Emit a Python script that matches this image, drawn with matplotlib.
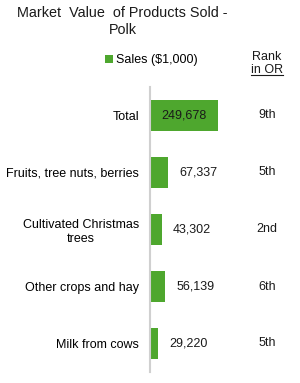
import matplotlib
matplotlib.use("Agg")
import matplotlib.pyplot as plt
from matplotlib.transforms import blended_transform_factory
from matplotlib.lines import Line2D

plt.rcParams['font.family'] = ['Liberation Sans', 'DejaVu Sans']

categories = ["Total", "Fruits, tree nuts, berries", "Cultivated Christmas\ntrees",
              "Other crops and hay", "Milk from cows"]
sales = [249678, 67337, 43302, 56139, 29220]
ranks = ["9th", "5th", "2nd", "6th", "5th"]
series_name = "Sales ($1,000)"
title_line1 = "Market  Value  of Products Sold -"
title_line2 = "Polk"
bar_color = "#4ea72e"

W, H = 300, 383
fig = plt.figure(figsize=(W / 100, H / 100), dpi=100)
ax = fig.add_axes([150 / W, (H - 372) / H, 150 / W, 285 / H])

ypos = list(range(len(categories)))
bars = ax.barh(ypos, sales, height=0.54, color=bar_color, label=series_name, zorder=2)
ax.set_xlim(0, 550000)
ax.set_ylim(len(categories) - 0.5, -0.5)
ax.set_yticks(ypos)
ax.set_yticklabels(categories, fontsize=9, multialignment='center')
ax.tick_params(axis='y', length=0, pad=8)
ax.set_xticks([])
for s in ['top', 'right', 'bottom']:
    ax.spines[s].set_visible(False)
ax.spines['left'].set_color('#d0d0d0')
ax.spines['left'].set_linewidth(1.5)

for i, v in enumerate(sales):
    txt = f"{v:,}"
    if i == 0:
        ax.text(v / 2, i, txt, ha='center', va='center', fontsize=9, color='#1a1a1a')
    else:
        ax.annotate(txt, xy=(v, i), xytext=(8, 0), textcoords='offset points',
                    ha='left', va='center', fontsize=9, color='#1a1a1a')

trans = blended_transform_factory(ax.transAxes, ax.transData)
for i, r in enumerate(ranks):
    ax.text(0.78, i, r, transform=trans, ha='center', va='center', fontsize=9, color='#1a1a1a')

# Rank header
fig.text(267 / W, 1 - 60 / H, "Rank", ha='center', va='baseline', fontsize=9, color='#1a1a1a')
t_in = fig.text(267 / W, 1 - 73 / H, "in OR", ha='center', va='baseline', fontsize=9, color='#1a1a1a')

# Title
fig.text(17 / W, 1 - 16.7 / H, title_line1, ha='left', va='baseline', fontsize=10.4, color='#1a1a1a')
fig.text(109 / W, 1 - 34.3 / H, title_line2, ha='left', va='baseline', fontsize=10.4, color='#1a1a1a')

# Legend
ax.legend(handles=[bars], loc='center', bbox_to_anchor=(151.5 / W, 1 - 60 / H),
          bbox_transform=fig.transFigure, frameon=False, fontsize=9,
          handlelength=0.6, handleheight=0.6, handletextpad=0.3, borderpad=0)

# underline for "in OR"
fig.canvas.draw()
bb = t_in.get_window_extent(renderer=fig.canvas.get_renderer())
yline = 1 - 74.5 / H
fig.add_artist(Line2D([bb.x0 / fig.bbox.width, bb.x1 / fig.bbox.width], [yline, yline],
                      transform=fig.transFigure, color='#1a1a1a', linewidth=0.8))

fig.savefig("out.png", dpi=100, facecolor='white')
